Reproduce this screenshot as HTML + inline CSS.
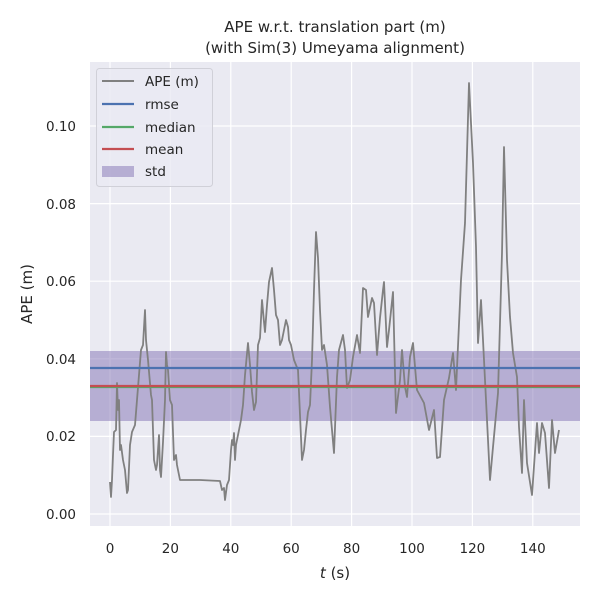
<!DOCTYPE html>
<html><head><meta charset="utf-8"><style>body{margin:0;background:#fff}svg{display:block;font-family:"DejaVu Sans","Liberation Sans",sans-serif}</style></head>
<body>
<svg width="600" height="600" viewBox="0 0 600 600">
<rect width="600" height="600" fill="#fff"/>
<rect x="90" y="62" width="490" height="464" fill="#eaeaf2"/>
<g stroke="#fff" stroke-width="1.2">
<line x1="110" y1="62" x2="110" y2="526"/><line x1="170.4" y1="62" x2="170.4" y2="526"/><line x1="230.8" y1="62" x2="230.8" y2="526"/><line x1="291.2" y1="62" x2="291.2" y2="526"/><line x1="351.6" y1="62" x2="351.6" y2="526"/><line x1="412" y1="62" x2="412" y2="526"/><line x1="472.4" y1="62" x2="472.4" y2="526"/><line x1="532.8" y1="62" x2="532.8" y2="526"/>
<line x1="90" y1="514" x2="580" y2="514"/><line x1="90" y1="436.4" x2="580" y2="436.4"/><line x1="90" y1="358.8" x2="580" y2="358.8"/><line x1="90" y1="281.2" x2="580" y2="281.2"/><line x1="90" y1="203.6" x2="580" y2="203.6"/><line x1="90" y1="126" x2="580" y2="126"/>
</g>
<rect x="90" y="351" width="490" height="70" fill="#8172b3" fill-opacity="0.5"/>
<polyline fill="none" stroke="#808080" stroke-width="1.8" stroke-linejoin="round" points="110,482 111,497 112,480 113,455 114,432 116,430 117,383 118,410 119,400 120,450 121,445 123,460 125,470 127,493 128,490 130,445 132,432 135,425 137,400 139,375 141,350 143,345 145,310 146,340 148,360 151,395 152,400 154,460 156,470 157,465 159,435 160,470 161,477 163,442 165,400 166,352 167,365 168,370 170,400 172,405 174,460 176,455 177,465 180,480 200,480 220,481 222,490 224,488 225,500 227,485 229,480 231,450 232,440 233,445 234,433 235,460 236,445 239,430 241,420 243,405 245,375 248,343 250,365 252,392 254,410 256,402 258,345 260,338 262,300 264,322 265,332 267,305 269,282 272,268 274,290 276,315 278,320 280,345 282,340 284,330 286,320 288,327 289,340 291,345 294,360 298,370 302,460 304,450 306,430 308,412 310,405 312,360 314,290 316,232 318,258 320,310 322,350 324,345 327,365 330,407 334,453 337,377 339,350 343,335 345,350 347,388 350,380 353,357 357,335 360,353 363,288 366,290 368,317 372,298 374,303 377,355 380,318 383,290 384,282 387,347 389,330 393,292 396,413 400,380 402,350 405,387 407,397 410,357 413,343 417,390 424,403 429,430 434,410 437,458 440,457 444,400 449,378 453,353 456,390 461,280 465,223 469,83 473,163 476,247 478,343 481,300 485,380 490,480 493,447 498,393 502,253 504,147 507,260 510,317 513,353 517,377 519,427 522,473 524,400 527,463 532,495 537,423 539,453 542,423 545,433 549,488 552,420 555,453 559,430"/>
<line x1="90" y1="368" x2="580" y2="368" stroke="#4c72b0" stroke-width="2.2"/>
<line x1="90" y1="387" x2="580" y2="387" stroke="#55a868" stroke-width="2.2"/>
<line x1="90" y1="386" x2="580" y2="386" stroke="#c44e52" stroke-width="2.2"/>
<g font-size="13.5" fill="#262626" text-anchor="middle">
<text x="110" y="553">0</text><text x="170.4" y="553">20</text><text x="230.8" y="553">40</text><text x="291.2" y="553">60</text><text x="351.6" y="553">80</text><text x="412" y="553">100</text><text x="472.4" y="553">120</text><text x="532.8" y="553">140</text>
</g>
<g font-size="13.5" fill="#262626" text-anchor="end">
<text x="76" y="519">0.00</text><text x="76" y="441">0.02</text><text x="76" y="364">0.04</text><text x="76" y="286">0.06</text><text x="76" y="209">0.08</text><text x="76" y="131">0.10</text>
</g>
<text x="335" y="578" font-size="15" fill="#262626" text-anchor="middle"><tspan font-style="italic">t</tspan> (s)</text>
<text transform="translate(32,294) rotate(-90)" font-size="15" fill="#262626" text-anchor="middle">APE (m)</text>
<text x="335" y="32" font-size="15" fill="#262626" text-anchor="middle">APE w.r.t. translation part (m)</text>
<text x="335" y="53" font-size="15" fill="#262626" text-anchor="middle">(with Sim(3) Umeyama alignment)</text>
<rect x="96.5" y="68.5" width="116" height="118" rx="3" fill="#eaeaf2" fill-opacity="0.8" stroke="#d0d0d8"/>
<g font-size="13.5" fill="#262626">
<line x1="102" y1="81" x2="134" y2="81" stroke="#808080" stroke-width="2"/><text x="145" y="86">APE (m)</text>
<line x1="102" y1="104" x2="134" y2="104" stroke="#4c72b0" stroke-width="2.2"/><text x="145" y="109">rmse</text>
<line x1="102" y1="127" x2="134" y2="127" stroke="#55a868" stroke-width="2.2"/><text x="145" y="132">median</text>
<line x1="102" y1="149" x2="134" y2="149" stroke="#c44e52" stroke-width="2.2"/><text x="145" y="154">mean</text>
<rect x="102" y="166" width="32" height="11" fill="#8172b3" fill-opacity="0.5"/><text x="145" y="176">std</text>
</g>
</svg>
</body></html>
